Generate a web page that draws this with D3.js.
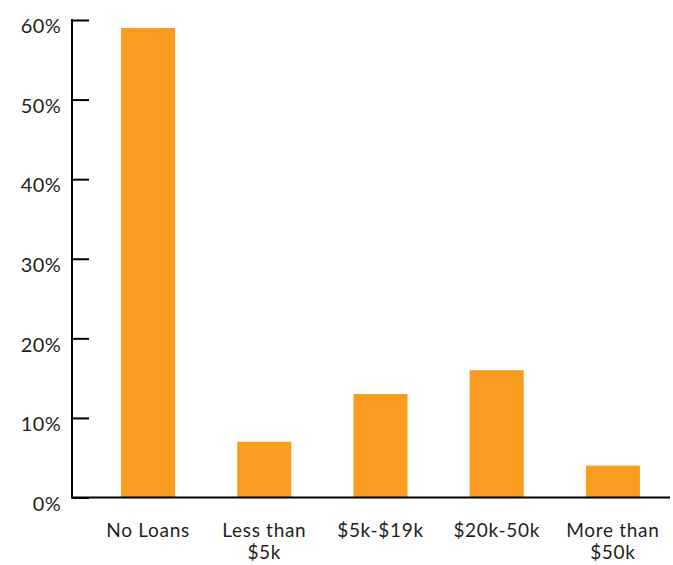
<!DOCTYPE html>
<html><head><meta charset="utf-8">
<script src="https://cdn.jsdelivr.net/npm/d3@7"></script>
<style>
html,body{margin:0;padding:0;background:#fff;}
svg text{font-family:Lato,"Open Sans",sans-serif;fill:#231f20;}
</style></head>
<body><svg id="c" width="673" height="565"></svg>
<script>
const categories = [["No Loans"], ["Less than", "$5k"], ["$5k-$19k"], ["$20k-50k"], ["More than", "$50k"]];
const values = [59, 7, 13, 16, 4];
const yTicks = [0, 10, 20, 30, 40, 50, 60];

const svg = d3.select("#c");
const axisX = 72, baseY = 497.5, topY = 20, rightX = 670;

const x = d3.scaleBand().domain(d3.range(categories.length)).range([90, 671])
  .paddingInner(0.535).paddingOuter(0.2675);
const y = d3.scaleLinear().domain([0, 60]).range([baseY, topY]);

// bars
svg.append("g").selectAll("rect").data(values).join("rect")
  .attr("x", (d, i) => x(i))
  .attr("y", d => y(d))
  .attr("width", x.bandwidth())
  .attr("height", d => y(0) - y(d))
  .attr("fill", "#F99C1F");

// y axis
const yAxis = d3.axisRight(y).tickValues(yTicks).tickSize(17).tickFormat("");
const gy = svg.append("g").attr("transform", `translate(${axisX},0)`).call(yAxis);
gy.select(".domain").remove();
gy.selectAll(".tick line").attr("stroke", "#000").attr("stroke-width", 2);
svg.append("line").attr("x1", axisX).attr("x2", axisX).attr("y1", topY - 1).attr("y2", baseY + 1)
  .attr("stroke", "#000").attr("stroke-width", 2);
svg.append("g").selectAll("text").data(yTicks).join("text")
  .attr("x", 61).attr("y", d => y(d)).attr("dy", "0.66em")
  .attr("text-anchor", "end").attr("font-size", 20).attr("letter-spacing", 0.3)
  .text(d => d + "%");

// x axis line
svg.append("line").attr("x1", axisX).attr("x2", rightX).attr("y1", baseY).attr("y2", baseY)
  .attr("stroke", "#000").attr("stroke-width", 2);

// x labels
const xl = svg.append("g").selectAll("text").data(categories).join("text")
  .attr("text-anchor", "middle").attr("font-size", 19).attr("letter-spacing", 0.7)
  .attr("x", (d, i) => x(i) + x.bandwidth() / 2).attr("y", 537);
xl.selectAll("tspan").data(d => d).join("tspan")
  .attr("x", function () { return d3.select(this.parentNode).attr("x"); })
  .attr("dy", (d, i) => i === 0 ? 0 : 22)
  .text(d => d);
</script></body></html>
